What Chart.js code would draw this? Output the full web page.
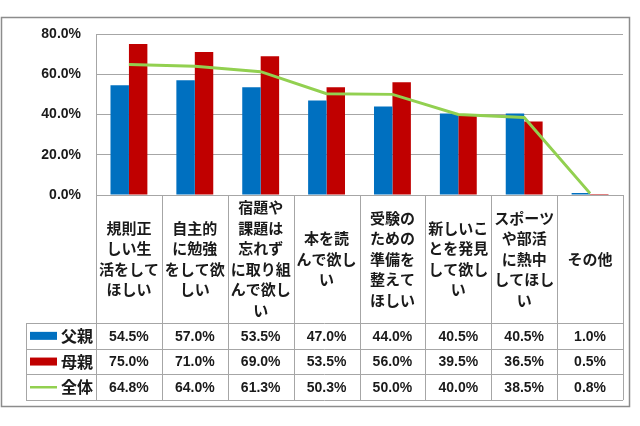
<!DOCTYPE html>
<html>
<head>
<meta charset="utf-8">
<script src="https://cdn.jsdelivr.net/npm/chart.js@4.4.1/dist/chart.umd.min.js"></script>
<style>
  html, body { margin: 0; padding: 0; background: #fff; }
  #wrap { position: relative; width: 640px; height: 426px; }
</style>
</head>
<body>
<div id="wrap"><canvas id="chart" width="640" height="426"></canvas></div>
<script>
// category labels, already broken into lines as in the original
const categories = [
    ['規則正', 'しい生', '活をして', 'ほしい'],
    ['自主的', 'に勉強', 'をして欲', 'しい'],
    ['宿題や', '課題は', '忘れず', 'に取り組', 'んで欲し', 'い'],
    ['本を読', 'んで欲し', 'い'],
    ['受験の', 'ための', '準備を', '整えて', 'ほしい'],
    ['新しいこ', 'とを発見', 'して欲し', 'い'],
    ['スポーツ', 'や部活', 'に熱中', 'してほし', 'い'],
    ['その他']
];
const seriesNames = ['父親', '母親', '全体'];
const fatherVals = [54.5, 57.0, 53.5, 47.0, 44.0, 40.5, 40.5, 1.0];
const motherVals = [75.0, 71.0, 69.0, 53.5, 56.0, 39.5, 36.5, 0.5];
const totalVals = [64.8, 64.0, 61.3, 50.3, 50.0, 40.0, 38.5, 0.8];
const yMax = 80;
const yStep = 20;

const colors = ['#0070C0', '#C00000', '#92D050'];
const textColor = '#1a1a1a';
const lineColor = '#a6a6a6';

// draws the outer frame and the data table under the plot
const tablePlugin = {
    id: 'dataTable',
    beforeDraw(chart) {
        const ctx = chart.ctx;
        ctx.save();
        ctx.strokeStyle = '#8c8c8c';
        ctx.lineWidth = 1.5;
        ctx.strokeRect(1.5, 17.5, 628, 389);
        ctx.restore();
    },
    afterDraw(chart) {
        const ctx = chart.ctx;
        const area = chart.chartArea;
        const xs = chart.scales.x;
        const n = categories.length;
        const colW = (area.right - area.left) / n;
        const labelTop = area.bottom;
        const labelBottom = 323;
        const rowH = 25.7;
        const tableLeft = 26;
        const tableBottom = labelBottom + rowH * 3;
        const values = [fatherVals, motherVals, totalVals];

        ctx.save();
        ctx.strokeStyle = lineColor;
        ctx.lineWidth = 1;
        ctx.beginPath();
        for (let r = 0; r <= 3; r++) {
            const y = Math.round(labelBottom + rowH * r) + 0.5;
            ctx.moveTo(tableLeft, y);
            ctx.lineTo(area.right, y);
        }
        ctx.moveTo(tableLeft + 0.5, labelBottom);
        ctx.lineTo(tableLeft + 0.5, tableBottom);
        for (let i = 0; i <= n; i++) {
            const x = Math.round(area.left + colW * i) + 0.5;
            ctx.moveTo(x, labelTop);
            ctx.lineTo(x, tableBottom);
        }
        ctx.stroke();

        // category labels
        ctx.fillStyle = textColor;
        ctx.textAlign = 'center';
        ctx.textBaseline = 'middle';
        ctx.font = 'bold 15px "Noto Sans CJK JP"';
        const lh = 20.5;
        const midY = (labelTop + labelBottom) / 2;
        categories.forEach((lines, i) => {
            const cx = xs.getPixelForValue(i);
            const y0 = midY - (lines.length - 1) * lh / 2;
            lines.forEach((t, k) => ctx.fillText(t, cx, y0 + k * lh));
        });

        // rows: legend key, name, values
        for (let r = 0; r < 3; r++) {
            const cy = labelBottom + rowH * r + rowH / 2;
            if (r < 2) {
                ctx.fillStyle = colors[r];
                ctx.fillRect(30, cy - 4, 27, 8);
            } else {
                ctx.strokeStyle = colors[2];
                ctx.lineWidth = 2.5;
                ctx.beginPath();
                ctx.moveTo(30, cy);
                ctx.lineTo(57, cy);
                ctx.stroke();
            }
            ctx.fillStyle = textColor;
            ctx.textAlign = 'right';
            ctx.font = 'bold 16px "Noto Sans CJK JP"';
            ctx.fillText(seriesNames[r], 93, cy);
            ctx.textAlign = 'center';
            ctx.font = 'bold 14px "Liberation Sans"';
            values[r].forEach((v, i) => {
                ctx.fillText(v.toFixed(1) + '%', xs.getPixelForValue(i), cy + 1);
            });
        }
        ctx.restore();
    }
};

const ctx = document.getElementById('chart').getContext('2d');
new Chart(ctx, {
    type: 'bar',
    data: {
        labels: categories,
        datasets: [
            {
                label: seriesNames[0],
                data: fatherVals,
                backgroundColor: colors[0],
                barPercentage: 1,
                categoryPercentage: 0.56,
                order: 2
            },
            {
                label: seriesNames[1],
                data: motherVals,
                backgroundColor: colors[1],
                barPercentage: 1,
                categoryPercentage: 0.56,
                order: 2
            },
            {
                label: seriesNames[2],
                type: 'line',
                data: totalVals,
                borderColor: colors[2],
                borderWidth: 3,
                pointRadius: 0,
                tension: 0,
                fill: false,
                order: 1
            }
        ]
    },
    options: {
        responsive: false,
        devicePixelRatio: 1,
        animation: false,
        layout: {
            padding: { top: 34, left: 26, right: 17, bottom: 231 }
        },
        plugins: {
            legend: { display: false },
            tooltip: { enabled: false }
        },
        scales: {
            x: {
                display: false
            },
            y: {
                min: 0,
                max: yMax,
                afterFit(scale) { scale.width = 70; },
                ticks: {
                    stepSize: yStep,
                    padding: 15,
                    color: textColor,
                    font: { family: 'Liberation Sans', size: 14, weight: 'bold' },
                    callback: v => v.toFixed(1) + '%'
                },
                grid: {
                    color: lineColor,
                    drawTicks: false
                },
                border: {
                    display: true,
                    color: lineColor
                }
            }
        }
    },
    plugins: [tablePlugin]
});
</script>
</body>
</html>
